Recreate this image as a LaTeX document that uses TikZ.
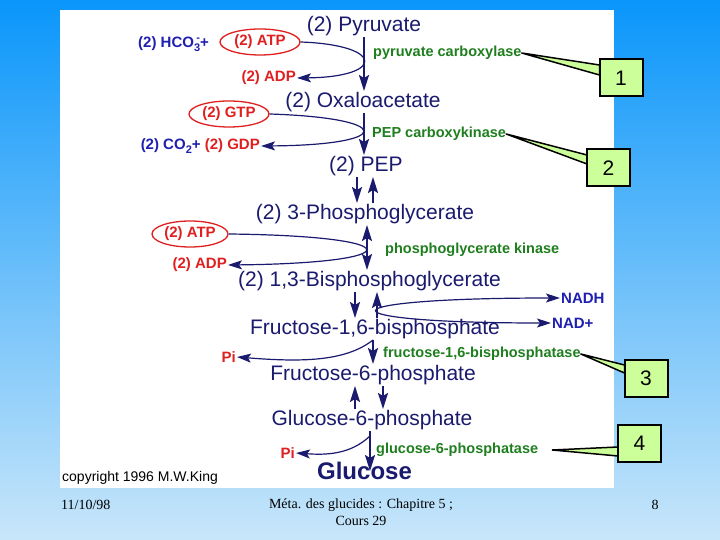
\documentclass[tikz,border=0pt]{standalone}
\usepackage{fontspec}
\setmainfont{Liberation Sans}
\newfontfamily\footfont{Liberation Serif}
\usepackage{tikz}
\usetikzlibrary{arrows.meta, shapes.geometric, calc}
\definecolor{Navy}{HTML}{1A1A6E}
\definecolor{Blue}{HTML}{2020B0}
\definecolor{Red}{HTML}{E02020}
\definecolor{Green}{HTML}{1F7F1F}
\definecolor{Lime}{HTML}{CCFF99}
\definecolor{SkyTop}{HTML}{0A96FA}
\definecolor{SkyMid}{HTML}{87C3F8}
\definecolor{SkyLow}{HTML}{C8E6FA}
\newcommand{\sizeto}[1]{\fontsize{#1}{#1}\selectfont}
\newcommand{\ionsub}[2]{{\sizeto{11}\raisebox{-4pt}{#1}\llap{\raisebox{6pt}{#2}}}}

\begin{document}
\begin{tikzpicture}[x=1pt, y=-1pt,
  >={Stealth[length=14pt, width=9pt, inset=3pt]},
  metab/.style={text=Navy, inner sep=1pt, font=\sizeto{21}},
  enzyme/.style={text=Green, anchor=west, inner sep=0pt, font=\bfseries\sizeto{14.5}},
  cofactor/.style={text=Red, inner sep=1pt, font=\bfseries\sizeto{15}},
  ion/.style={text=Blue, inner sep=1pt, font=\bfseries\sizeto{15}},
  energy/.style={ellipse, draw=Red, line width=1.3pt, fill=white, text=Red, minimum width=80pt, minimum height=26pt, inner sep=0pt, font=\bfseries\sizeto{15}},
  callout/.style={draw=black, line width=2pt, fill=Lime, minimum width=43pt, minimum height=37pt, inner sep=0pt, font=\sizeto{21}},
  pointer/.style={draw=black, line width=1.5pt, fill=Lime, line join=round},
  arrow/.style={-{Stealth[length=16pt, width=10pt, inset=3pt]}, line width=1.8pt, draw=Navy},
  twoway/.style={arrow, {Stealth[length=16pt, width=10pt, inset=3pt]}-{Stealth[length=16pt, width=10pt, inset=3pt]}},
  side/.style={->, line width=1.2pt, draw=Navy},
  foot/.style={inner sep=0pt, font=\footfont\fontsize{14}{17}\selectfont}
]
\useasboundingbox (0,0) rectangle (720,540);
\shade[top color=SkyTop, middle color=SkyMid, bottom color=SkyLow] (0,0) rectangle (720,540);
\fill[white] (60,10) rectangle (614,488);

\node[metab] (pyr) at (364,26) {(2) Pyruvate};
\node[metab] (oaa) at (363,102) {(2) Oxaloacetate};
\node[metab] (pep) at (366,166) {(2) PEP};
\node[metab] (pg3) at (365,214) {(2) 3-Phosphoglycerate};
\node[metab] (bpg) at (369.5,281) {(2) 1,3-Bisphosphoglycerate};
\node[metab] (fbp) at (375,329) {Fructose-1,6-bisphosphate};
\node[metab] (f6p) at (373,375) {Fructose-6-phosphate};
\node[metab] (g6p) at (372,420) {Glucose-6-phosphate};
\node[metab, font=\bfseries\sizeto{24}] (glc) at (364.5,471) {Glucose};

\node[enzyme] (pc) at (373,53) {pyruvate carboxylase};
\node[enzyme] (pepck) at (372,134) {PEP carboxykinase};
\node[enzyme] (pgk) at (385,250) {phosphoglycerate kinase};
\node[enzyme] (fbpase) at (383,354) {fructose-1,6-bisphosphatase};
\node[enzyme] (gpase) at (376,450) {glucose-6-phosphatase};

\node[ion, anchor=west] (hco) at (137,44) {(2) HCO\ionsub{3}{-}+};
\node[energy] (atp1) at (260,42) {(2) ATP};
\node[cofactor, anchor=east] (adp1) at (297,78) {(2) ADP};
\node[energy] (gtp) at (229,114) {(2) GTP};
\node[cofactor, anchor=east] (gdp) at (261,146) {\textcolor{Blue}{(2) CO\ionsub{2}{}+} (2) GDP};
\node[energy, minimum width=76pt] (atp2) at (190,234) {(2) ATP};
\node[cofactor, anchor=east] (adp2) at (228,265) {(2) ADP};
\node[ion, anchor=west] (nadh) at (560,298) {NADH};
\node[ion, anchor=west] (nad) at (551,323) {NAD+};
\node[cofactor, anchor=east] (pi1) at (237,357) {Pi};
\node[cofactor, anchor=east] (pi2) at (296,453) {Pi};
\coordinate (fbpturn) at (373,340);
\coordinate (g6pturn) at (370,436);

\draw[arrow] (pyr.south) -- (pyr.south |- oaa.north);
\draw[arrow] ([xshift=1pt]oaa.south) -- ([xshift=-2pt]pep.north);
\draw[arrow] ([xshift=-9pt]pep.south) -- ([xshift=-8pt]pg3.north);
\draw[arrow] ([xshift=8pt]pg3.north) -- ([xshift=7pt]pep.south);
\draw[twoway] ([xshift=2pt]pg3.south) -- ([xshift=-2.5pt]bpg.north);
\draw[arrow] ([xshift=-14.5pt]bpg.south) -- ([xshift=-20pt]fbp.north);
\draw[arrow] ([xshift=2pt]fbp.north) -- ([xshift=7.5pt]bpg.south);
\draw[arrow] ([xshift=-2pt]fbp.south) -- (f6p.north);
\draw[arrow] ([xshift=-17pt]g6p.north) -- ([xshift=-18pt]f6p.south);
\draw[arrow] ([xshift=10pt]f6p.south) -- ([xshift=11pt]g6p.north);
\draw[arrow] ([xshift=-2pt]g6p.south) -- ([xshift=5.5pt]glc.center);

\draw[side] (atp1.east) .. controls (385,45) and (385,77) .. (adp1.east);
\draw[side] (gtp.east) .. controls (395,118) and (395,145) .. (gdp.east);
\draw[side] (atp2.east) .. controls (411,236) and (411,263) .. (adp2.east);
\draw[side, <->] (nadh.west) .. controls (319,298) and (319,323) .. (nad.west);
\draw[side] (fbpturn) .. controls (345,362) and (300,362) .. (pi1.east);
\draw[side] (g6pturn) .. controls (350,455) and (325,455) .. (pi2.east);

\coordinate (c1) at (621,78);
\coordinate (c2) at (608.5,168);
\coordinate (c3) at (646,378);
\coordinate (c4) at (639.5,443.5);
\draw[pointer] (pc.east) -- ($(c1)+(-21.5,-13)$) -- ($(c1)+(-21.5,-3)$) -- cycle;
\draw[pointer] (pepck.east) -- ($(c2)+(-21.5,-13)$) -- ($(c2)+(-21.5,-4)$) -- cycle;
\draw[pointer] (fbpase.east) -- ($(c3)+(-21.5,-13)$) -- ($(c3)+(-21.5,-5)$) -- cycle;
\draw[pointer] ([xshift=14pt]gpase.east) -- ($(c4)+(-21.5,3.5)$) -- ($(c4)+(-21.5,12.5)$) -- cycle;
\node[callout] (box1) at (c1) {1};
\node[callout] (box2) at (c2) {2};
\node[callout] (box3) at (c3) {3};
\node[callout] (box4) at (c4) {4};

\node[anchor=west, inner sep=0pt, font=\sizeto{14}] (copy) at (62,478) {copyright 1996 M.W.King};
\node[foot, anchor=west] (date) at (61,505) {11/10/98};
\node[foot, align=center] (title) at (361,512) {Méta. des glucides : Chapitre 5 ;\\Cours 29};
\node[foot] (page) at (655,505) {8};
\end{tikzpicture}
\end{document}
